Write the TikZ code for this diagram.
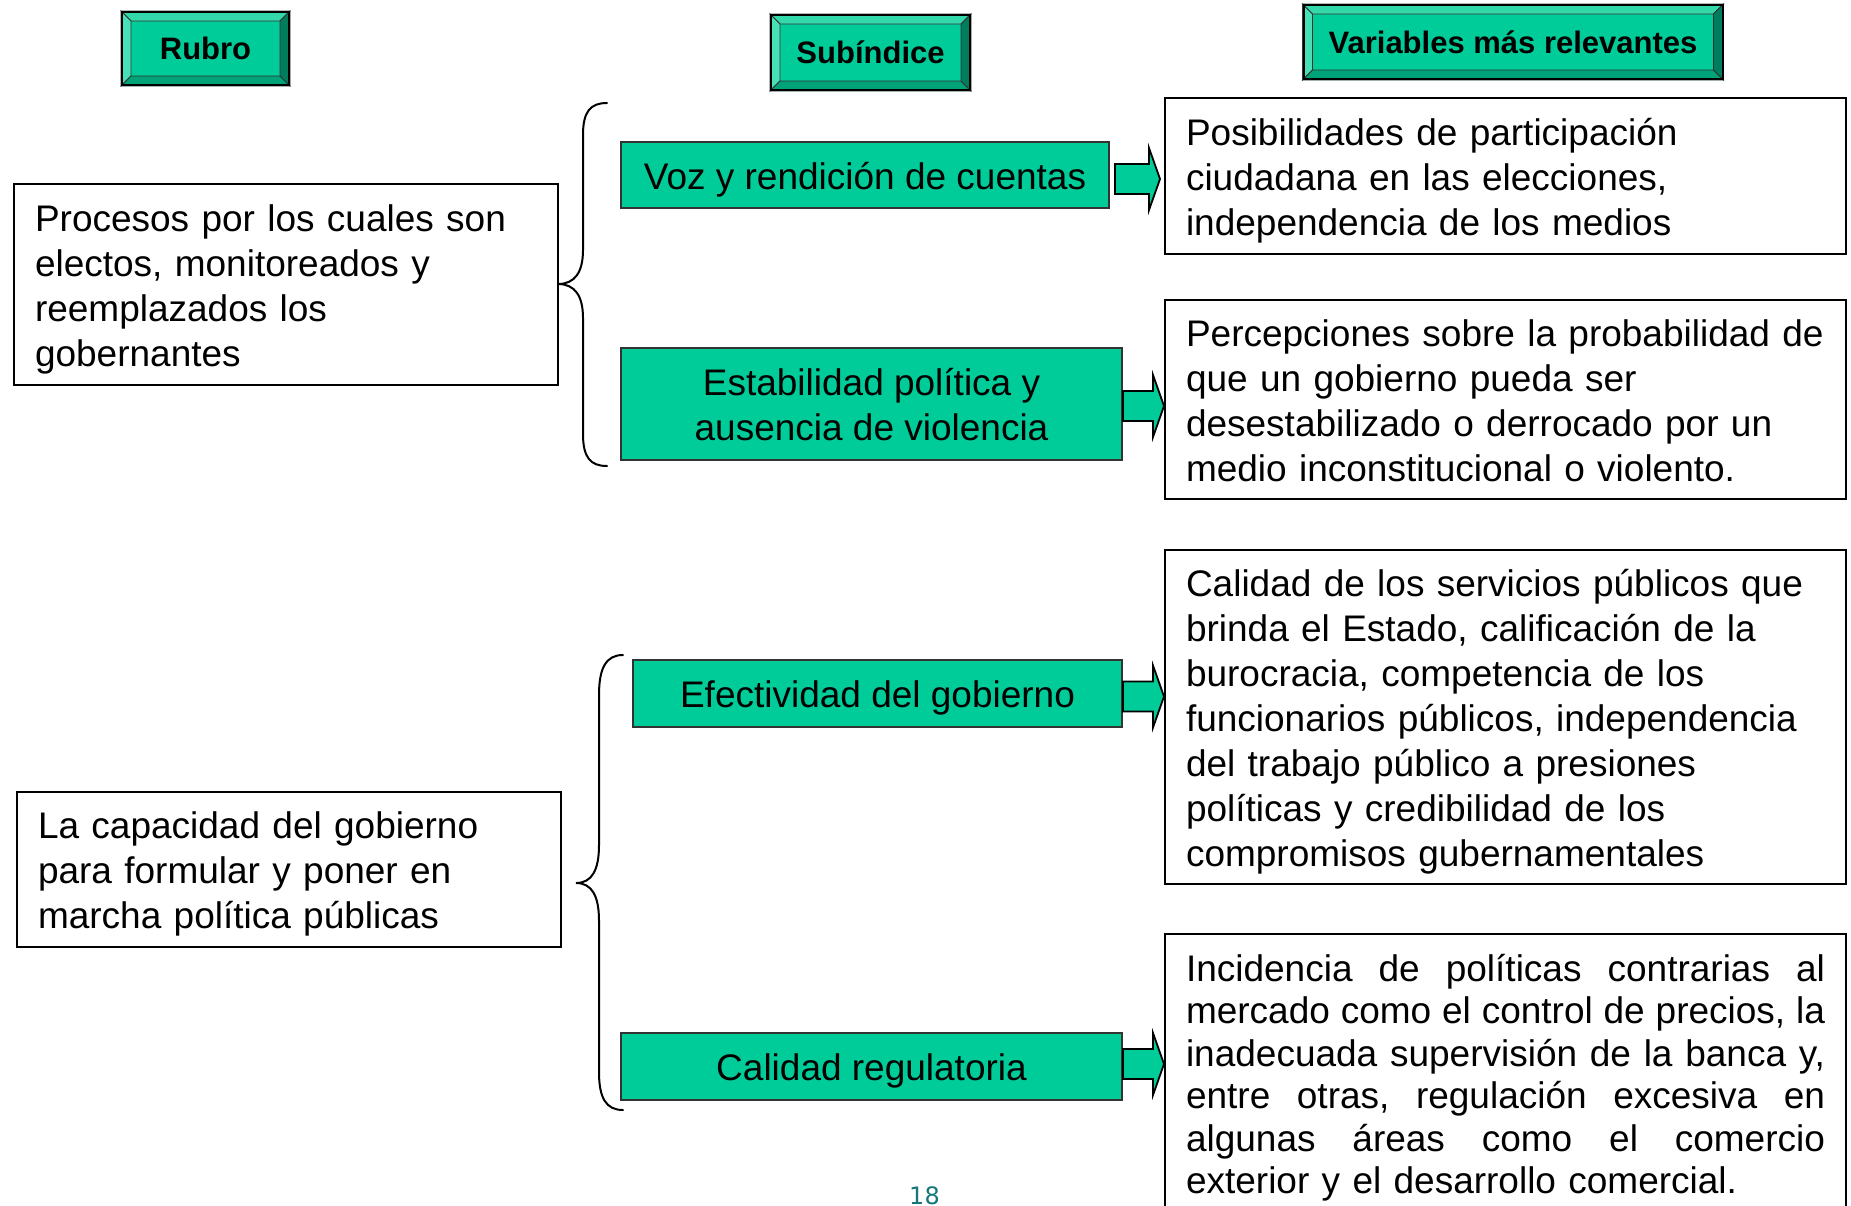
\documentclass[tikz,border=0pt]{standalone}
\usepackage{fontspec}
\setmainfont{Liberation Sans}
\newfontfamily\pagefont{DejaVu Sans}
\usetikzlibrary{calc}
\pgfdeclarelayer{background}
\pgfsetlayers{background,main}
\definecolor{face}{RGB}{0,204,153}
\definecolor{bevT}{RGB}{51,217,170}
\definecolor{bevL}{RGB}{72,224,182}
\definecolor{bevB}{RGB}{0,163,120}
\definecolor{bevR}{RGB}{0,125,92}
\definecolor{pagenum}{RGB}{20,120,120}
\newcommand\st{\rule[-8.5pt]{0pt}{45pt}}
\newcommand\stb{\rule[-8pt]{0pt}{42.5pt}}
\newcommand\hdrbevel[1]{%
 \begin{pgfonlayer}{background}
  \fill[face] (#1.north west) rectangle (#1.south east);
  \filldraw[bevT,draw=black!80,line width=0.8pt] (#1.north west) -- (#1.north east) -- ([xshift=-10pt,yshift=-10pt]#1.north east) -- ([xshift=10pt,yshift=-10pt]#1.north west) -- cycle;
  \filldraw[bevL,draw=black!80,line width=0.8pt] (#1.north west) -- ([xshift=10pt,yshift=-10pt]#1.north west) -- ([xshift=10pt,yshift=10pt]#1.south west) -- (#1.south west) -- cycle;
  \filldraw[bevB,draw=black!80,line width=0.8pt] (#1.south west) -- (#1.south east) -- ([xshift=-10pt,yshift=10pt]#1.south east) -- ([xshift=10pt,yshift=10pt]#1.south west) -- cycle;
  \filldraw[bevR,draw=black!80,line width=0.8pt] (#1.north east) -- (#1.south east) -- ([xshift=-10pt,yshift=10pt]#1.south east) -- ([xshift=-10pt,yshift=-10pt]#1.north east) -- cycle;
 \end{pgfonlayer}}
% from, to, start gap, end gap, vertical offset (canvas, up positive)
\newcommand\blockarrow[5]{%
 \path[barrow] let \p1=(#1.east), \p2=(#2.west) in
  (\x1+#3,\y1+#5+15pt) -- (\x2-#4-11pt,\y1+#5+15pt) -- (\x2-#4-11pt,\y1+#5+31pt) -- (\x2-#4,\y1+#5)
  -- (\x2-#4-11pt,\y1+#5-31pt) -- (\x2-#4-11pt,\y1+#5-15pt) -- (\x1+#3,\y1+#5-15pt) -- cycle;}
\begin{document}
\begin{tikzpicture}[x=1pt,y=-1pt,
  txt/.style={font=\fontsize{37}{45}\selectfont},
  plainbox/.style={draw=black, line width=2pt, rectangle, inner xsep=21pt, inner ysep=0pt, align=left, txt},
  greenbox/.style={draw=black!80, line width=2pt, fill=face, rectangle, inner sep=0pt, align=center, txt},
  hdr/.style={draw=black, line width=2pt, rectangle, inner sep=0pt, font=\fontsize{31}{36}\selectfont\bfseries},
  brace/.style={line width=2pt, line cap=round},
  barrow/.style={fill=face, draw=black, line width=1.8pt, line join=miter},
]
\useasboundingbox (0,0) rectangle (1851,1205);

% headers
\node[hdr, minimum width=167pt, minimum height=73pt] (rubro) at (205.5,48.5) {Rubro};
\node[hdr, minimum width=199pt, minimum height=75pt] (sub) at (870.5,52.5) {Subíndice};
\node[hdr, minimum width=419pt, minimum height=74pt] (var) at (1513,42) {Variables más relevantes};
\hdrbevel{rubro}
\hdrbevel{sub}
\hdrbevel{var}

% left boxes
\node[plainbox, text width=502pt, minimum height=201pt] (p1) at (286,284.5)
 {\st Procesos por los cuales son\\electos, monitoreados y\\reemplazados los\\gobernantes\st};
\node[plainbox, text width=502pt, minimum height=155pt] (p2) at (289,869.5)
 {\st La capacidad del gobierno\\para formular y poner en\\marcha política públicas\st};

% green boxes
\node[greenbox, minimum width=488pt, minimum height=66pt] (g1) at (865,175) {\st Voz y rendición de cuentas};
\node[greenbox, minimum width=501pt, minimum height=112pt] (g2) at (871.5,404) {\st Estabilidad política y\\ausencia de violencia\st};
\node[greenbox, minimum width=489pt, minimum height=67pt] (g3) at (877.5,693.5) {\st Efectividad del gobierno};
\node[greenbox, minimum width=501pt, minimum height=67pt] (g4) at (871.5,1066.5) {\st Calidad regulatoria};

% right boxes
\node[plainbox, text width=639pt, minimum height=156pt] (r1) at (1505.5,176)
 {\st Posibilidades de participación\\ciudadana en las elecciones,\\independencia de los medios\st};
\node[plainbox, text width=639pt, minimum height=199pt] (r2) at (1505.5,399.5)
 {\st Percepciones sobre la probabilidad de\\que un gobierno pueda ser\\desestabilizado o derrocado por un\\medio inconstitucional o violento.\st};
\node[plainbox, text width=639pt, minimum height=334pt] (r3) at (1505.5,717)
 {\st Calidad de los servicios públicos que\\brinda el Estado, calificación de la\\burocracia, competencia de los\\funcionarios públicos, independencia\\del trabajo público a presiones\\políticas y credibilidad de los\\compromisos gubernamentales\st};
\node[plainbox, text width=639pt, minimum height=280pt, font=\fontsize{37}{42.5}\selectfont] (r4) at (1505.5,1074)
 {\stb\makebox[639pt][l]{Incidencia\hfill de\hfill políticas\hfill contrarias\hfill al}\\
  \makebox[639pt][l]{mercado\hfill como\hfill el\hfill control\hfill de\hfill precios,\hfill la}\\
  \makebox[639pt][l]{inadecuada\hfill supervisión\hfill de\hfill la\hfill banca\hfill y,}\\
  \makebox[639pt][l]{entre\hfill otras,\hfill regulación\hfill excesiva\hfill en}\\
  \makebox[639pt][l]{algunas\hfill áreas\hfill como\hfill el\hfill comercio}\\
  exterior y el desarrollo comercial.\stb};

% block arrows
\blockarrow{g1}{r1}{5pt}{4pt}{-4pt}
\blockarrow{g2}{r2}{0pt}{0pt}{-2pt}
\blockarrow{g3}{r3}{0pt}{0pt}{-3pt}
\blockarrow{g4}{r4}{0pt}{0pt}{2.5pt}

% braces
\coordinate (b1tip) at (558,284);
\coordinate (b2tip) at (576,883);
\draw[brace] (607,103) .. controls (590,103) and (583,112) .. (583,135) -- (583,250)
  .. controls (583,272) and (575,284) .. (b1tip)
  .. controls (575,284) and (583,296) .. (583,318) -- (583,434)
  .. controls (583,457) and (590,466) .. (607,466);
\draw[brace] (623,655) .. controls (606,655) and (599,668) .. (599,695) -- (599,845)
  .. controls (599,870) and (592,883) .. (b2tip)
  .. controls (592,883) and (599,896) .. (599,921) -- (599,1072)
  .. controls (599,1098) and (606,1110) .. (623,1110);

% page number
\node[font=\pagefont\fontsize{24}{28}\selectfont, text=pagenum, anchor=base, inner sep=0pt] (pg) at (924.5,1204.5) {18};
\end{tikzpicture}
\end{document}
